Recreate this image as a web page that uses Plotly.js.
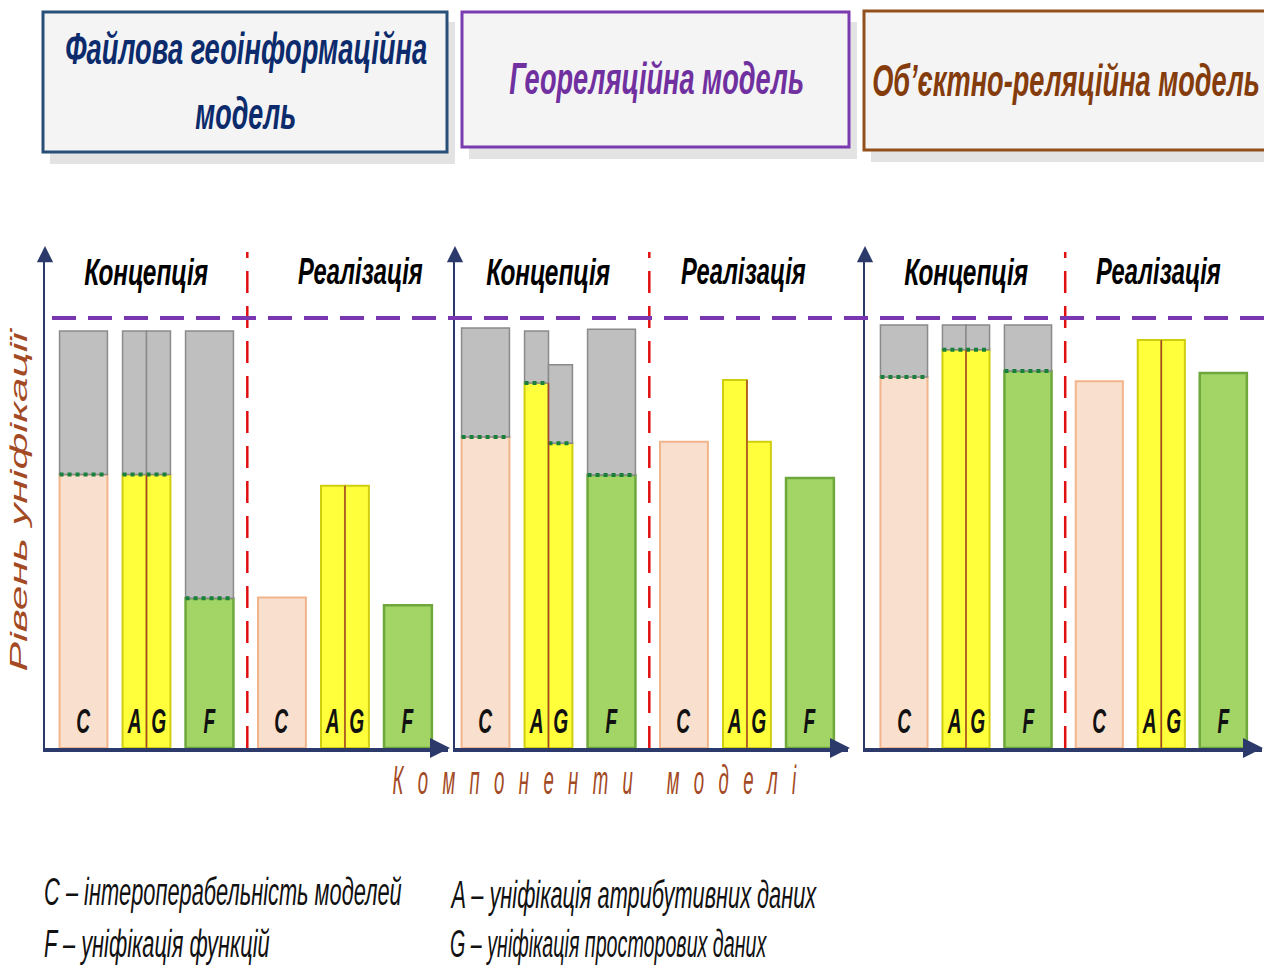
<!DOCTYPE html>
<html>
<head>
<meta charset="utf-8">
<script src="https://cdn.plot.ly/plotly-3.0.1.min.js"></script>
<style>html,body{margin:0;padding:0;background:#fff;}#chart{width:1264px;height:965px;}</style>
</head>
<body>
<div id="chart"></div>
<script>
// ---------- data ----------
const modelTitles = ['Файлова геоінформаційна', 'модель', 'Геореляційна модель', 'Об’єктно-реляційна модель'];
const stageLabels = ['Концепція', 'Реалізація'];
const componentLetters = ['C', 'A', 'G', 'F'];
const yTitle = 'Рівень уніфікації';
const xTitle = 'Компоненти моделі';
const legendItems = ['C – інтероперабельність моделей', 'A – уніфікація атрибутивних даних',
                     'F – уніфікація функцій', 'G – уніфікація просторових даних'];

// level reached at the concept stage (coloured part), per model
const conceptC = [63.6, 72.3, 86.3];
const conceptA = [63.6, 84.9, 92.6];
const conceptG = [63.6, 70.9, 92.6];
const conceptF = [34.8, 63.5, 87.7];
// declared level at the concept stage (top of grey part)
const conceptTopC = [97.0, 97.7, 98.4];
const conceptTopA = [97.0, 97.0, 98.4];
const conceptTopG = [97.0, 89.1, 98.4];
const conceptTopF = [97.0, 97.4, 98.4];
// level reached at the realisation stage
const realC = [35.0, 71.2, 85.3];
const realA = [61.0, 85.6, 94.9];
const realG = [61.0, 71.2, 94.9];
const realF = [33.2, 62.8, 87.2];
// full unification level (purple dashed line)
const fullLevel = 100;

// ---------- styling / layout ----------
const W = 1264, H = 965;
const px = v => v / W, py = v => 1 - v / H;
const SANS = '"Liberation Sans", Arimo, Arial, sans-serif';
const NAVY = '#2c3a6b';
const COL = {
  C: {fill: '#f9dfcd', line: '#f2b48a'},
  Y: {fill: '#ffff3c', line: '#cfcf10'},
  F: {fill: '#a2d466', line: '#6ea83c'},
  Gr: {fill: '#bfbfbf', line: '#8a8a8a'}
};
const BW = 0.76, HW = BW / 2;
const REAL_SHIFT = 3.15;
const grpC = [0, REAL_SHIFT], grpAG = [1, 1 + REAL_SHIFT], grpF = [2, 2 + REAL_SHIFT];
const DIVIDER = 2.6;

const panelDom = [[45, 448], [455, 848], [865, 1262]];
const panelFirstCenter = [83.5, 485.5, 904];
const panelUnit = [63, 63, 62];
const realLabelPos = [4.4, 4.1, 4.1];
const yTopPx = 250, yBasePx = 748, pxPerUnit = 4.3;
const yRange = [0, (yBasePx - yTopPx) / pxPerUnit];

// text fitting (narrow, tall lettering of the original)
const fit = {};
fit[modelTitles[0]] = {w: 362, sy: 1.3};
fit[modelTitles[1]] = {w: 101, sy: 1.3};
fit[modelTitles[2]] = {w: 295, sy: 1.3};
fit[modelTitles[3]] = {w: 388, sy: 1.3};
fit[stageLabels[0]] = {w: 124, sy: 1.15};
fit[stageLabels[1]] = {w: 125, sy: 1.15};
componentLetters.forEach(l => fit[l] = {sx: 0.64, sy: 1.2});
fit[legendItems[0]] = {w: 358, sy: 1.3, left: true};
fit[legendItems[1]] = {w: 367, sy: 1.3, left: true};
fit[legendItems[2]] = {w: 226, sy: 1.3, left: true};
fit[legendItems[3]] = {w: 317, sy: 1.3, left: true};
fit[yTitle] = {w: 344, sy: 1.0};
fit[xTitle] = {w: 419, sx: 0.62, sy: 1.35, spaced: true};

const traces = [];
const annotations = [];
const shapes = [];
const layout = {
  width: W, height: H, margin: {l: 0, r: 0, t: 0, b: 0},
  paper_bgcolor: '#ffffff', plot_bgcolor: 'rgba(0,0,0,0)',
  showlegend: false, barmode: 'overlay', hovermode: false
};

for (let p = 0; p < 3; p++) {
  const s = p === 0 ? '' : String(p + 1);
  const xa = 'x' + s, ya = 'y' + s;
  const [d0, d1] = panelDom[p];
  const x0 = -(panelFirstCenter[p] - d0) / panelUnit[p];
  const x1 = x0 + (d1 - d0) / panelUnit[p];
  layout['xaxis' + s] = {
    domain: [px(d0), px(d1)], range: [x0, x1], anchor: ya,
    showline: true, linecolor: NAVY, linewidth: 4, layer: 'below traces',
    showticklabels: false, ticks: '', showgrid: false, zeroline: false, fixedrange: true
  };
  layout['yaxis' + s] = {
    domain: [py(yBasePx), py(yTopPx)], range: yRange, anchor: xa,
    showline: true, linecolor: NAVY, linewidth: 2.5, layer: 'below traces',
    showticklabels: false, ticks: '', showgrid: false, zeroline: false, fixedrange: true
  };

  const base = {type: 'bar', xaxis: xa, yaxis: ya, hoverinfo: 'skip'};
  traces.push(Object.assign({}, base, {x: grpC, y: [conceptC[p], realC[p]], width: BW,
    marker: {color: COL.C.fill, line: {color: COL.C.line, width: 2}}}));
  traces.push(Object.assign({}, base, {x: grpAG, y: [conceptA[p], realA[p]], width: HW, offset: -HW,
    marker: {color: COL.Y.fill, line: {color: COL.Y.line, width: 2}}}));
  traces.push(Object.assign({}, base, {x: grpAG, y: [conceptG[p], realG[p]], width: HW, offset: 0,
    marker: {color: COL.Y.fill, line: {color: COL.Y.line, width: 2}}}));
  traces.push(Object.assign({}, base, {x: grpF, y: [conceptF[p], realF[p]], width: BW,
    marker: {color: COL.F.fill, line: {color: COL.F.line, width: 2.5}}}));
  const gBase = [conceptC[p], conceptA[p], conceptG[p], conceptF[p]];
  const gTop = [conceptTopC[p], conceptTopA[p], conceptTopG[p], conceptTopF[p]];
  traces.push(Object.assign({}, base, {
    x: [grpC[0], grpAG[0], grpAG[0], grpF[0]],
    base: gBase, y: gTop.map((t, i) => t - gBase[i]),
    width: [BW, HW, HW, BW], offset: [-HW, -HW, 0, -HW],
    marker: {color: COL.Gr.fill, line: {color: COL.Gr.line, width: 1.5}}}));
  const dx = [], dy = [];
  const segs = [[grpC[0] - HW, grpC[0] + HW, conceptC[p]],
                [grpAG[0] - HW, grpAG[0], conceptA[p]],
                [grpAG[0], grpAG[0] + HW, conceptG[p]],
                [grpF[0] - HW, grpF[0] + HW, conceptF[p]]];
  segs.forEach(sg => { dx.push(sg[0], sg[1], null); dy.push(sg[2], sg[2], null); });
  traces.push({type: 'scatter', mode: 'lines', xaxis: xa, yaxis: ya, x: dx, y: dy, hoverinfo: 'skip',
    line: {color: '#18803a', width: 4, dash: '4px,4px'}});
  traces.push({type: 'scatter', mode: 'lines', xaxis: xa, yaxis: ya, hoverinfo: 'skip',
    x: [grpAG[0], grpAG[0], null, grpAG[1], grpAG[1]],
    y: [0, Math.max(conceptA[p], conceptG[p]), null, 0, Math.max(realA[p], realG[p])],
    line: {color: '#a8462a', width: 1.5}});

  for (let k = 0; k < 2; k++) {
    const lp = [[grpC[k], componentLetters[0]], [grpAG[k] - HW / 2, componentLetters[1]],
                [grpAG[k] + HW / 2, componentLetters[2]], [grpF[k], componentLetters[3]]];
    lp.forEach(([xv, t]) => annotations.push({xref: xa, yref: ya, x: xv, y: 6.5, text: t,
      showarrow: false, xanchor: 'center', yanchor: 'middle',
      font: {family: SANS, size: 30, color: '#111', style: 'italic', weight: 'bold'}}));
  }
  annotations.push({xref: xa, yref: 'paper', x: 1, y: py(272), text: stageLabels[0], showarrow: false,
    xanchor: 'center', yanchor: 'middle',
    font: {family: SANS, size: 32, color: '#000', style: 'italic', weight: 'bold'}});
  annotations.push({xref: xa, yref: 'paper', x: realLabelPos[p], y: py(271), text: stageLabels[1], showarrow: false,
    xanchor: 'center', yanchor: 'middle',
    font: {family: SANS, size: 32, color: '#000', style: 'italic', weight: 'bold'}});
  shapes.push({type: 'line', xref: xa, yref: 'paper', x0: DIVIDER, x1: DIVIDER, y0: py(yBasePx), y1: py(252),
    line: {color: '#e01010', width: 2.5, dash: '22px,13px'}});
  annotations.push({xref: 'paper', yref: 'paper', x: px(d0), y: py(yTopPx - 4), ax: 0, ay: 14, text: '',
    showarrow: true, arrowhead: 2, arrowsize: 1.3, arrowwidth: 2.5, arrowcolor: NAVY});
  annotations.push({xref: 'paper', yref: 'paper', x: px(d1 + 2), y: py(yBasePx), ax: -14, ay: 0, text: '',
    showarrow: true, arrowhead: 2, arrowsize: 1, arrowwidth: 4, arrowcolor: NAVY});
}

shapes.push({type: 'line', xref: 'paper', yref: 'y', x0: px(52), x1: 1, y0: fullLevel, y1: fullLevel,
  line: {color: '#7a35b0', width: 4, dash: '24px,12px'}});

const boxes = [
  {x0: 43, x1: 447, y0: 12, y1: 152, line: '#284f78', text: '#0c2b6c'},
  {x0: 462, x1: 849, y0: 12, y1: 147, line: '#7a3ab0', text: '#7030a0'},
  {x0: 864, x1: 1275, y0: 11, y1: 150, line: '#94501a', text: '#843c0c'}
];
boxes.forEach(b => {
  shapes.push({type: 'rect', xref: 'paper', yref: 'paper', x0: px(b.x0 + 7), x1: px(b.x1 + 8),
    y0: py(b.y1 + 12), y1: py(b.y0 + 10), fillcolor: '#e3e3e3', line: {width: 0}, layer: 'below'});
  shapes.push({type: 'rect', xref: 'paper', yref: 'paper', x0: px(b.x0), x1: px(b.x1),
    y0: py(b.y1), y1: py(b.y0), fillcolor: '#f4f4f4', line: {color: b.line, width: 3}, layer: 'below'});
});
const hdrFont = c => ({family: SANS, size: 34, color: c, style: 'italic', weight: 'bold'});
const hdr = (x, y, t, c) => annotations.push({xref: 'paper', yref: 'paper', x: px(x), y: py(y), text: t,
  showarrow: false, xanchor: 'center', yanchor: 'middle', font: hdrFont(c)});
hdr(246, 48, modelTitles[0], boxes[0].text);
hdr(246, 113, modelTitles[1], boxes[0].text);
hdr(656, 78, modelTitles[2], boxes[1].text);
hdr(1066, 80, modelTitles[3], boxes[2].text);

annotations.push({xref: 'paper', yref: 'paper', x: px(19), y: py(500), text: yTitle, textangle: -90,
  showarrow: false, xanchor: 'center', yanchor: 'middle',
  font: {family: SANS, size: 24, color: '#a34a24', style: 'italic'}});
annotations.push({xref: 'paper', yref: 'paper', x: px(602), y: py(779), text: xTitle,
  showarrow: false, xanchor: 'center', yanchor: 'middle',
  font: {family: SANS, size: 30, color: '#a34a24', style: 'italic'}});

const legPos = [[42, 891], [448, 894], [42, 943], [448, 943]];
legendItems.forEach((t, i) => annotations.push({xref: 'paper', yref: 'paper', x: px(legPos[i][0]), y: py(legPos[i][1]),
  xanchor: 'left', yanchor: 'middle', text: t, showarrow: false,
  font: {family: SANS, size: 30, color: '#111', style: 'italic'}}));

layout.annotations = annotations;
layout.shapes = shapes;

function fitTexts(gd) {
  gd.querySelectorAll('.annotation-text').forEach(el => {
    const f = fit[el.textContent];
    if (!f) return;
    let bb = el.getBBox();
    if (bb.width === 0) return;
    let sx = f.sx;
    if (f.spaced) {
      const n = el.textContent.length;
      const ls = (f.w / sx - bb.width) / n;
      el.style.letterSpacing = ls.toFixed(2) + 'px';
      bb = el.getBBox();
    } else if (f.w) {
      sx = f.w / bb.width;
    }
    const cx = f.left ? bb.x : bb.x + bb.width / 2;
    const cy = bb.y + bb.height / 2;
    const prev = el.getAttribute('transform') || '';
    el.setAttribute('transform', prev + ' translate(' + cx + ',' + cy + ') scale(' + sx + ',' + f.sy + ') translate(' + (-cx) + ',' + (-cy) + ')');
  });
}

Plotly.newPlot('chart', traces, layout, {staticPlot: true, displayModeBar: false}).then(fitTexts);
</script>
</body>
</html>
